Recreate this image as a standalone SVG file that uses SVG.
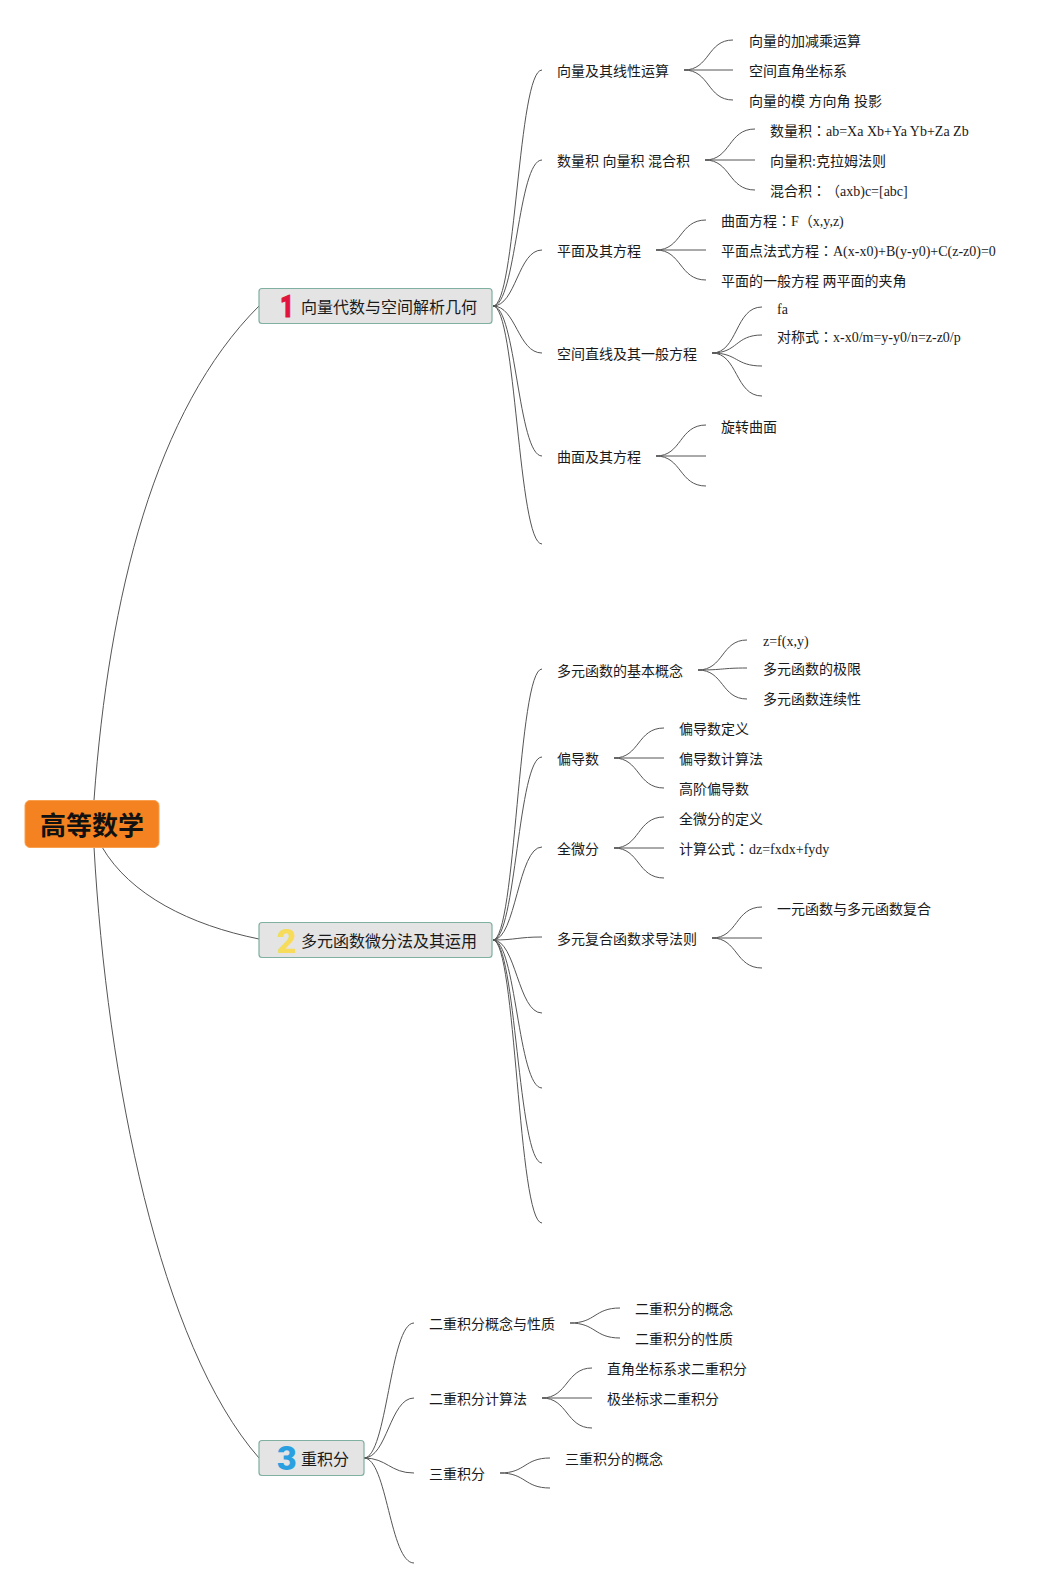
<svg xmlns="http://www.w3.org/2000/svg" width="1056" height="1588" viewBox="0 0 1056 1588">
<style>
text{font-family:"Liberation Serif","Noto Sans CJK SC",serif;fill:#1a1a1a}
.t{font-size:14px}
.c{font-family:"Noto Sans CJK TC",sans-serif}
.m{font-size:16px;font-family:"Noto Sans CJK SC",sans-serif}
.r{font-size:26px;font-weight:700;font-family:"Noto Sans CJK SC",sans-serif;fill:#111}
.n{font-size:34px;font-weight:900;font-family:Roboto,"Liberation Sans",sans-serif}
.b{fill:#e4e4e4;stroke:#7fb0a2;stroke-width:1.2}
#connectors path{fill:none;stroke:#555;stroke-width:1}
</style>
<g id="connectors">
<path d="M94 800C109 595 155 410 259 306"/>
<path d="M102 847C130 895 190 925 259 939"/>
<path d="M94 847C107 1080 160 1345 259 1458"/>
<path d="M493 306C516 306 518 70 542 70"/>
<path d="M493 306C516 306 518 160 542 160"/>
<path d="M493 306C516 306 518 250 542 250"/>
<path d="M493 306C516 306 518 353 542 353"/>
<path d="M493 306C516 306 518 456 542 456"/>
<path d="M493 306C516 306 518 544 542 544"/>
<path d="M493 940C516 940 518 669 542 669"/>
<path d="M493 940C516 940 518 757 542 757"/>
<path d="M493 940C516 940 518 847 542 847"/>
<path d="M493 940C516 940 518 937 542 937"/>
<path d="M493 940C516 940 518 1013 542 1013"/>
<path d="M493 940C516 940 518 1088 542 1088"/>
<path d="M493 940C516 940 518 1163 542 1163"/>
<path d="M493 940C516 940 518 1223 542 1223"/>
<path d="M364 1458C387 1458 390 1323 414 1323"/>
<path d="M364 1458C387 1458 390 1398 414 1398"/>
<path d="M364 1458C387 1458 390 1473 414 1473"/>
<path d="M364 1458C387 1458 390 1563 414 1563"/>
<path d="M684 70C710 70 707 40 733 40"/><path d="M684 70H733"/><path d="M684 70C710 70 707 100 733 100"/>
<path d="M705 160C731 160 728 129 755 129"/><path d="M705 160H755"/><path d="M705 160C731 160 728 190 755 190"/>
<path d="M656 250C682 250 679 220 706 220"/><path d="M656 250H706"/><path d="M656 250C682 250 679 280 706 280"/>
<path d="M712 353C738 353 735 307 762 307"/><path d="M712 353C738 353 735 335 762 335"/><path d="M712 353C738 353 735 366 762 366"/><path d="M712 353C738 353 735 396 762 396"/>
<path d="M656 456C682 456 679 425 706 425"/><path d="M656 456H706"/><path d="M656 456C682 456 679 486 706 486"/>
<path d="M698 670C724 670 721 640 747 640"/><path d="M698 670C724 670 721 668 747 668"/><path d="M698 670C724 670 721 699 747 699"/>
<path d="M614 758C640 758 637 728 664 728"/><path d="M614 758H664"/><path d="M614 758C640 758 637 788 664 788"/>
<path d="M614 848C640 848 637 817 664 817"/><path d="M614 848H664"/><path d="M614 848C640 848 637 878 664 878"/>
<path d="M712 938C738 938 735 907 762 907"/><path d="M712 938H762"/><path d="M712 938C738 938 735 968 762 968"/>
<path d="M570 1323C596 1323 594 1308 620 1308"/><path d="M570 1323C596 1323 594 1338 620 1338"/>
<path d="M542 1398C568 1398 566 1368 592 1368"/><path d="M542 1398H592"/><path d="M542 1398C568 1398 566 1428 592 1428"/>
<path d="M500 1473C526 1473 524 1458 550 1458"/><path d="M500 1473C526 1473 524 1488 550 1488"/>
</g>
<g id="root"><rect x="25" y="800.500" width="134" height="47" rx="5" fill="#f58220" stroke="#f9a04f"/><text class="r" x="40" y="835">高等数学</text></g>
<g id="n1"><rect class="b" x="259" y="288.500" width="233" height="35" rx="3"/><text class="n" transform="translate(280 316.500) scale(.75 1)" style="fill:#e0143c;stroke:#e0143c;stroke-width:1;stroke-linejoin:round;font-size:32px">1</text><text class="m" x="301" y="312.500">向量代数与空间解析几何</text></g>
<g id="n2"><rect class="b" x="259" y="922.500" width="233" height="35" rx="3"/><text class="n" x="277" y="953" style="fill:#f6dc5a">2</text><text class="m" x="301" y="947">多元函数微分法及其运用</text></g>
<g id="n3"><rect class="b" x="259" y="1440.500" width="105" height="35" rx="3"/><text class="n" x="277" y="1470" style="fill:#2ba0e0">3</text><text class="m" x="301" y="1465">重积分</text></g>
<g id="labels">
<g id="a1"><text class="t" x="557" y="76">向量及其线性运算</text></g>
<g id="a11"><text class="t" x="749" y="46">向量的加减乘运算</text></g>
<g id="a12"><text class="t" x="749" y="76">空间直角坐标系</text></g>
<g id="a13"><text class="t" x="749" y="106">向量的模 方向角 投影</text></g>
<g id="a2"><text class="t" x="557" y="166">数量积 向量积 混合积</text></g>
<g id="a21"><text class="t" x="770" y="136">数量积<tspan class="c">：</tspan>ab=Xa Xb+Ya Yb+Za Zb</text></g>
<g id="a22"><text class="t" x="770" y="166">向量积:克拉姆法则</text></g>
<g id="a23"><text class="t" x="770" y="196">混合积<tspan class="c">：</tspan><tspan dx="7">（axb)c=[abc]</tspan></text></g>
<g id="a3"><text class="t" x="557" y="256">平面及其方程</text></g>
<g id="a31"><text class="t" x="721" y="226">曲面方程<tspan class="c">：</tspan>F（x,y,z)</text></g>
<g id="a32"><text class="t" x="721" y="256">平面点法式方程<tspan class="c">：</tspan>A(x-x0)+B(y-y0)+C(z-z0)=0</text></g>
<g id="a33"><text class="t" x="721" y="286">平面的一般方程 两平面的夹角</text></g>
<g id="a4"><text class="t" x="557" y="359">空间直线及其一般方程</text></g>
<g id="a41"><text class="t" x="777" y="314">fa</text></g>
<g id="a42"><text class="t" x="777" y="342">对称式<tspan class="c">：</tspan>x-x0/m=y-y0/n=z-z0/p</text></g>
<g id="a5"><text class="t" x="557" y="462">曲面及其方程</text></g>
<g id="a51"><text class="t" x="721" y="432">旋转曲面</text></g>
<g id="b1"><text class="t" x="557" y="676">多元函数的基本概念</text></g>
<g id="b11"><text class="t" x="763" y="646">z=f(x,y)</text></g>
<g id="b12"><text class="t" x="763" y="674">多元函数的极限</text></g>
<g id="b13"><text class="t" x="763" y="704">多元函数连续性</text></g>
<g id="b2"><text class="t" x="557" y="764">偏导数</text></g>
<g id="b21"><text class="t" x="679" y="734">偏导数定义</text></g>
<g id="b22"><text class="t" x="679" y="764">偏导数计算法</text></g>
<g id="b23"><text class="t" x="679" y="794">高阶偏导数</text></g>
<g id="b3"><text class="t" x="557" y="854">全微分</text></g>
<g id="b31"><text class="t" x="679" y="824">全微分的定义</text></g>
<g id="b32"><text class="t" x="679" y="854">计算公式<tspan class="c">：</tspan>dz=fxdx+fydy</text></g>
<g id="b4"><text class="t" x="557" y="944">多元复合函数求导法则</text></g>
<g id="b41"><text class="t" x="777" y="914">一元函数与多元函数复合</text></g>
<g id="c1"><text class="t" x="429" y="1329">二重积分概念与性质</text></g>
<g id="c11"><text class="t" x="635" y="1314">二重积分的概念</text></g>
<g id="c12"><text class="t" x="635" y="1344">二重积分的性质</text></g>
<g id="c2"><text class="t" x="429" y="1404">二重积分计算法</text></g>
<g id="c21"><text class="t" x="607" y="1374">直角坐标系求二重积分</text></g>
<g id="c22"><text class="t" x="607" y="1404">极坐标求二重积分</text></g>
<g id="c3"><text class="t" x="429" y="1479">三重积分</text></g>
<g id="c31"><text class="t" x="565" y="1464">三重积分的概念</text></g>
</g>
</svg>
